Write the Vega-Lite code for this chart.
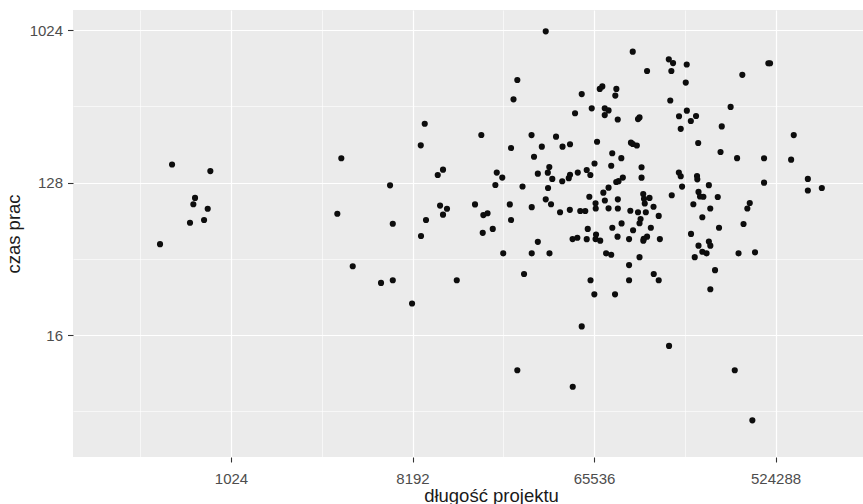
{
  "$schema": "https://vega.github.io/schema/vega-lite/v6.json",
  "width": 790,
  "height": 447,
  "autosize": {"type": "none"},
  "padding": {"left": 73, "top": 10, "right": 0, "bottom": 47},
  "background": "white",
  "view": {"fill": "#EBEBEB", "stroke": null},
  "config": {
    "font": "Liberation Sans",
    "axis": {
      "domain": false,
      "gridColor": "#FFFFFF",
      "tickColor": "#333333",
      "labelColor": "#4D4D4D",
      "labelFont": "Liberation Sans",
      "labelFontSize": 15,
      "titleFont": "Liberation Sans",
      "titleFontSize": 18.5,
      "titleFontWeight": "normal",
      "titleColor": "#1A1A1A"
    }
  },
  "data": {
    "values": [
      {"dlugosc": 521, "czas": 164}, {"dlugosc": 808, "czas": 150}, {"dlugosc": 678, "czas": 104}, {"dlugosc": 665, "czas": 95.4},
      {"dlugosc": 784, "czas": 89.7}, {"dlugosc": 640, "czas": 74.1}, {"dlugosc": 752, "czas": 76.9}, {"dlugosc": 454, "czas": 55.3},
      {"dlugosc": 3623, "czas": 178.6}, {"dlugosc": 6332, "czas": 123.5}, {"dlugosc": 3461, "czas": 83.8}, {"dlugosc": 6533, "czas": 73.1},
      {"dlugosc": 9421, "czas": 286}, {"dlugosc": 9003, "czas": 213}, {"dlugosc": 11616, "czas": 152.8}, {"dlugosc": 10936, "czas": 142.2},
      {"dlugosc": 11231, "czas": 93.6}, {"dlugosc": 12157, "czas": 89.7}, {"dlugosc": 11616, "czas": 82.7}, {"dlugosc": 9560, "czas": 76.9},
      {"dlugosc": 9028, "czas": 61.8}, {"dlugosc": 4129, "czas": 40.9}, {"dlugosc": 5710, "czas": 32.6}, {"dlugosc": 6533, "czas": 33.8},
      {"dlugosc": 8147, "czas": 24.6}, {"dlugosc": 13599, "czas": 33.8}, {"dlugosc": 37683, "czas": 1010}, {"dlugosc": 27214, "czas": 520},
      {"dlugosc": 26051, "czas": 399}, {"dlugosc": 56918, "czas": 429}, {"dlugosc": 69992, "czas": 460}, {"dlugosc": 72063, "czas": 476},
      {"dlugosc": 84640, "czas": 460}, {"dlugosc": 83624, "czas": 420}, {"dlugosc": 52724, "czas": 330}, {"dlugosc": 63822, "czas": 353},
      {"dlugosc": 74089, "czas": 353}, {"dlugosc": 77398, "czas": 343}, {"dlugosc": 74089, "czas": 322}, {"dlugosc": 85983, "czas": 303},
      {"dlugosc": 110363, "czas": 312}, {"dlugosc": 108462, "czas": 305}, {"dlugosc": 102105, "czas": 765}, {"dlugosc": 120324, "czas": 588},
      {"dlugosc": 154337, "czas": 689}, {"dlugosc": 162045, "czas": 655}, {"dlugosc": 158925, "czas": 588}, {"dlugosc": 189530, "czas": 642},
      {"dlugosc": 187433, "czas": 502}, {"dlugosc": 156959, "czas": 393}, {"dlugosc": 173539, "czas": 317}, {"dlugosc": 189792, "czas": 342},
      {"dlugosc": 210895, "czas": 318}, {"dlugosc": 198666, "czas": 297}, {"dlugosc": 176947, "czas": 267}, {"dlugosc": 313393, "czas": 360},
      {"dlugosc": 358351, "czas": 558}, {"dlugosc": 482869, "czas": 653}, {"dlugosc": 492306, "czas": 653}, {"dlugosc": 283116, "czas": 276},
      {"dlugosc": 216138, "czas": 220}, {"dlugosc": 279183, "czas": 194.6}, {"dlugosc": 337458, "czas": 178.8}, {"dlugosc": 459670, "czas": 178.6},
      {"dlugosc": 645923, "czas": 245}, {"dlugosc": 626786, "czas": 175.2}, {"dlugosc": 459670, "czas": 128}, {"dlugosc": 759169, "czas": 134.7},
      {"dlugosc": 759169, "czas": 115.1}, {"dlugosc": 891027, "czas": 119}, {"dlugosc": 270454, "czas": 105.3}, {"dlugosc": 390201, "czas": 97},
      {"dlugosc": 379584, "czas": 90}, {"dlugosc": 274412, "czas": 69.2}, {"dlugosc": 363332, "czas": 72.8}, {"dlugosc": 343147, "czas": 48.8},
      {"dlugosc": 414450, "czas": 49.5}, {"dlugosc": 262144, "czas": 38.8}, {"dlugosc": 18016, "czas": 245.4}, {"dlugosc": 32031, "czas": 245},
      {"dlugosc": 42402, "czas": 239.9}, {"dlugosc": 25321, "czas": 205.5}, {"dlugosc": 36032, "czas": 209.2}, {"dlugosc": 45679, "czas": 209.2},
      {"dlugosc": 49775, "czas": 216.2}, {"dlugosc": 67850, "czas": 223.9}, {"dlugosc": 32951, "czas": 182.3}, {"dlugosc": 80734, "czas": 191.2},
      {"dlugosc": 89588, "czas": 178.8}, {"dlugosc": 100041, "czas": 220.9}, {"dlugosc": 102203, "czas": 217}, {"dlugosc": 107020, "czas": 212.6},
      {"dlugosc": 65903, "czas": 166.3}, {"dlugosc": 79790, "czas": 161.2}, {"dlugosc": 112951, "czas": 158}, {"dlugosc": 112951, "czas": 137},
      {"dlugosc": 91161, "czas": 137.3}, {"dlugosc": 86770, "czas": 130.7}, {"dlugosc": 84522, "czas": 129.2}, {"dlugosc": 60271, "czas": 152.2},
      {"dlugosc": 62826, "czas": 142.2}, {"dlugosc": 39256, "czas": 158.6}, {"dlugosc": 38591, "czas": 146.7}, {"dlugosc": 40623, "czas": 134.7},
      {"dlugosc": 34423, "czas": 144.7}, {"dlugosc": 45515, "czas": 130.5}, {"dlugosc": 49054, "czas": 136.1}, {"dlugosc": 49775, "czas": 142.6},
      {"dlugosc": 54395, "czas": 147}, {"dlugosc": 21502, "czas": 147}, {"dlugosc": 22904, "czas": 137.3}, {"dlugosc": 21161, "czas": 124},
      {"dlugosc": 28885, "czas": 121.5}, {"dlugosc": 38699, "czas": 119}, {"dlugosc": 72909, "czas": 111.7}, {"dlugosc": 77398, "czas": 119.6},
      {"dlugosc": 62095, "czas": 105.6}, {"dlugosc": 74187, "czas": 100.4}, {"dlugosc": 66683, "czas": 96.6}, {"dlugosc": 86082, "czas": 102},
      {"dlugosc": 115147, "czas": 109.6}, {"dlugosc": 116196, "czas": 102.8}, {"dlugosc": 123732, "czas": 104}, {"dlugosc": 117178, "czas": 96.4},
      {"dlugosc": 129565, "czas": 92.2}, {"dlugosc": 137494, "czas": 81.3}, {"dlugosc": 159646, "czas": 107.8}, {"dlugosc": 173186, "czas": 147},
      {"dlugosc": 176947, "czas": 139.7}, {"dlugosc": 179700, "czas": 121.3}, {"dlugosc": 213254, "czas": 140.3}, {"dlugosc": 213975, "czas": 134},
      {"dlugosc": 244253, "czas": 123.7}, {"dlugosc": 216924, "czas": 112.8}, {"dlugosc": 220725, "czas": 106}, {"dlugosc": 229376, "czas": 105.7},
      {"dlugosc": 204472, "czas": 95.4}, {"dlugosc": 248185, "czas": 90}, {"dlugosc": 226623, "czas": 79.9}, {"dlugosc": 16761, "czas": 95.1},
      {"dlugosc": 18440, "czas": 82.3}, {"dlugosc": 19349, "czas": 84.3}, {"dlugosc": 24969, "czas": 95.1}, {"dlugosc": 25321, "czas": 76.9},
      {"dlugosc": 20537, "czas": 68.1}, {"dlugosc": 18309, "czas": 64.6}, {"dlugosc": 32096, "czas": 91.6}, {"dlugosc": 37683, "czas": 102},
      {"dlugosc": 40043, "czas": 95.4}, {"dlugosc": 44401, "czas": 85.5}, {"dlugosc": 49667, "czas": 88.4}, {"dlugosc": 55968, "czas": 87},
      {"dlugosc": 59277, "czas": 87}, {"dlugosc": 66821, "czas": 90}, {"dlugosc": 77398, "czas": 90.2}, {"dlugosc": 86082, "czas": 90},
      {"dlugosc": 99333, "czas": 87.3}, {"dlugosc": 108462, "czas": 85.5}, {"dlugosc": 118620, "czas": 85.5}, {"dlugosc": 111673, "czas": 78},
      {"dlugosc": 110363, "czas": 73.6}, {"dlugosc": 89850, "czas": 73.4}, {"dlugosc": 80806, "czas": 69.2}, {"dlugosc": 125633, "czas": 69.2},
      {"dlugosc": 102498, "czas": 66.9}, {"dlugosc": 60981, "czas": 68.1}, {"dlugosc": 85787, "czas": 61.3}, {"dlugosc": 97911, "czas": 59.3},
      {"dlugosc": 115278, "czas": 58}, {"dlugosc": 120324, "czas": 61.3}, {"dlugosc": 115802, "czas": 59.4}, {"dlugosc": 139330, "czas": 59.3},
      {"dlugosc": 34423, "czas": 57.1}, {"dlugosc": 51249, "czas": 59.3}, {"dlugosc": 54133, "czas": 60.4}, {"dlugosc": 60271, "czas": 59.2},
      {"dlugosc": 67056, "czas": 63.1}, {"dlugosc": 66683, "czas": 59.3}, {"dlugosc": 70340, "czas": 58}, {"dlugosc": 23154, "czas": 48.8},
      {"dlugosc": 32096, "czas": 48.8}, {"dlugosc": 39338, "czas": 48.8}, {"dlugosc": 75255, "czas": 48.8}, {"dlugosc": 79790, "czas": 47.9},
      {"dlugosc": 110363, "czas": 46.3}, {"dlugosc": 199098, "czas": 63.6}, {"dlugosc": 216924, "czas": 54.2}, {"dlugosc": 244253, "czas": 57.3},
      {"dlugosc": 248381, "czas": 54.2}, {"dlugosc": 226623, "czas": 49.9}, {"dlugosc": 237896, "czas": 48.8}, {"dlugosc": 207749, "czas": 46.3},
      {"dlugosc": 97911, "czas": 41.6}, {"dlugosc": 62957, "czas": 33.8}, {"dlugosc": 97911, "czas": 33.8}, {"dlugosc": 129890, "czas": 36.8},
      {"dlugosc": 137494, "czas": 33.8}, {"dlugosc": 65765, "czas": 27.9}, {"dlugosc": 83362, "czas": 27.9}, {"dlugosc": 29393, "czas": 36.8},
      {"dlugosc": 56918, "czas": 18}, {"dlugosc": 27214, "czas": 9.9}, {"dlugosc": 51347, "czas": 7.9}, {"dlugosc": 154796, "czas": 13.8},
      {"dlugosc": 328598, "czas": 9.9}, {"dlugosc": 401998, "czas": 5}, {"dlugosc": 248381, "czas": 29.9}
    ]
  },
  "mark": {"type": "point", "filled": true, "size": 38, "opacity": 1, "color": "#0D0D0D", "strokeWidth": 0},
  "encoding": {
    "x": {
      "field": "dlugosc",
      "type": "quantitative",
      "title": "długość projektu",
      "scale": {"type": "log", "base": 2, "domain": [167.5, 1428000], "nice": false, "zero": false},
      "axis": {
        "values": [362.04, 1024, 2896.3, 8192, 23170.5, 65536, 185363.8, 524288],
        "format": "d",
        "labelExpr": "abs(log(datum.value)/LN2 - round(log(datum.value)/LN2)) > 0.25 ? '' : datum.label",
        "grid": true,
        "gridWidth": {"condition": {"test": "abs(log(datum.value)/LN2 - round(log(datum.value)/LN2)) > 0.25", "value": 0.6}, "value": 1.2},
        "tickOpacity": {"condition": {"test": "abs(log(datum.value)/LN2 - round(log(datum.value)/LN2)) > 0.25", "value": 0}, "value": 1},
        "tickSize": 5,
        "tickWidth": 1.1,
        "labelPadding": 9,
        "labelFlush": false,
        "labelOverlap": false,
        "titleX": 418,
        "titleY": 29,
        "titleBaseline": "top",
        "titleAlign": "center"
      }
    },
    "y": {
      "field": "czas",
      "type": "quantitative",
      "title": "czas prac",
      "scale": {"type": "log", "base": 2, "domain": [3.03, 1351], "nice": false, "zero": false},
      "axis": {
        "values": [5.657, 16, 45.25, 128, 362.04, 1024],
        "format": "d",
        "labelExpr": "abs(log(datum.value)/LN2 - round(log(datum.value)/LN2)) > 0.25 ? '' : datum.label",
        "grid": true,
        "gridWidth": {"condition": {"test": "abs(log(datum.value)/LN2 - round(log(datum.value)/LN2)) > 0.25", "value": 0.6}, "value": 1.2},
        "tickOpacity": {"condition": {"test": "abs(log(datum.value)/LN2 - round(log(datum.value)/LN2)) > 0.25", "value": 0}, "value": 1},
        "tickSize": 5.5,
        "tickWidth": 1.1,
        "labelPadding": 5,
        "labelFlush": false,
        "labelOverlap": false,
        "titleX": -50,
        "titleY": 223.5,
        "titleAngle": 270,
        "titleBaseline": "bottom",
        "titleAlign": "center"
      }
    }
  }
}
